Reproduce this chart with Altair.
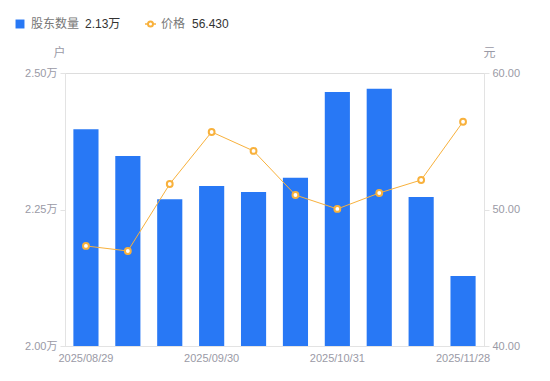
import altair as alt
import pandas as pd

dates = ["2025/08/29", "2025/09/10", "2025/09/19", "2025/09/30", "2025/10/10",
         "2025/10/20", "2025/10/31", "2025/11/10", "2025/11/20", "2025/11/28"]
holders = [2.397, 2.348, 2.269, 2.293, 2.282, 2.308, 2.465, 2.471, 2.273, 2.128]
prices = [47.33, 46.96, 51.87, 55.68, 54.29, 51.06, 50.04, 51.21, 52.16, 56.43]
x_tick_labels = ["2025/08/29", "2025/09/30", "2025/10/31", "2025/11/28"]

df = pd.DataFrame({"date": dates, "holders": holders, "price": prices})

BLUE = "#2878f5"
ORANGE = "#f8b13c"
GRAY = "#9a9aa6"
AXIS = "#e3e3e3"
FONT = "Liberation Sans, Noto Sans CJK SC, sans-serif"

xenc = alt.X("date:N", sort=dates,
             scale=alt.Scale(paddingInner=0.4, paddingOuter=0.2),
             axis=alt.Axis(values=x_tick_labels, title=None, labelAngle=0,
                           ticks=False, domainColor=AXIS, labelColor=GRAY,
                           labelFontSize=11, labelPadding=6, labelFont=FONT))

bars = alt.Chart(df).mark_bar(color=BLUE, clip=True).encode(
    x=xenc,
    y=alt.Y("holders:Q", scale=alt.Scale(domain=[2.0, 2.5], zero=False),
            axis=alt.Axis(values=[2.0, 2.25, 2.5], labelExpr="format(datum.value, '.2f') + '万'",
                          title="户", titleAngle=0, titleX=-6, titleY=-14,
                          titleAlign="center", titleColor=GRAY, titleFontWeight="normal",
                          titleFontSize=12, titleFont=FONT,
                          labelColor=GRAY, labelFontSize=11, labelFont=FONT,
                          tickColor=AXIS, tickSize=5, domainColor=AXIS, grid=False,
                          labelPadding=3)),
    y2=alt.datum(2.0),
)

line = alt.Chart(df).mark_line(color=ORANGE, strokeWidth=1).encode(
    x=alt.X("date:N", sort=dates),
    y=alt.Y("price:Q", scale=alt.Scale(domain=[40, 60], zero=False),
            axis=alt.Axis(orient="right", values=[40, 50, 60], format=".2f",
                          title="元", titleAngle=0, titleX=5, titleY=-14,
                          titleAlign="center", titleColor=GRAY, titleFontWeight="normal",
                          titleFontSize=12, titleFont=FONT,
                          labelColor=GRAY, labelFontSize=11, labelFont=FONT,
                          tickColor=AXIS, tickSize=5, domainColor=AXIS, grid=False,
                          labelPadding=3))
)

points = alt.Chart(df).mark_point(shape="circle", filled=True, fill="white",
                                  stroke=ORANGE, strokeWidth=2, size=34, opacity=1).encode(
    x=alt.X("date:N", sort=dates),
    y=alt.Y("price:Q", scale=alt.Scale(domain=[40, 60]), axis=None),
)

one = alt.Data(values=[{"a": 1}])
ly = -49
leg_sq = alt.Chart(one).mark_square(color=BLUE, size=80, opacity=1).encode(
    x=alt.value(-45), y=alt.value(ly))
leg_t1 = alt.Chart(one).mark_text(text="股东数量", align="left", baseline="middle",
                                  fontSize=12, color="#777777", font=FONT).encode(
    x=alt.value(-34), y=alt.value(ly))
leg_v1 = alt.Chart(one).mark_text(text="2.13万", align="left", baseline="middle",
                                  fontSize=12, color="#333333", font=FONT).encode(
    x=alt.value(20), y=alt.value(ly))
leg_ln = alt.Chart(one).mark_rule(color=ORANGE, strokeWidth=1.5).encode(
    x=alt.value(80), x2=alt.value(91), y=alt.value(ly))
leg_pt = alt.Chart(one).mark_point(shape="circle", filled=True, fill="white",
                                   stroke=ORANGE, strokeWidth=2, size=25, opacity=1).encode(
    x=alt.value(85.5), y=alt.value(ly))
leg_t2 = alt.Chart(one).mark_text(text="价格", align="left", baseline="middle",
                                  fontSize=12, color="#777777", font=FONT).encode(
    x=alt.value(96), y=alt.value(ly))
leg_v2 = alt.Chart(one).mark_text(text="56.430", align="left", baseline="middle",
                                  fontSize=12, color="#333333", font=FONT).encode(
    x=alt.value(127), y=alt.value(ly))

main = alt.layer(bars, line, points).resolve_scale(y="independent")

chart = alt.layer(main, leg_sq, leg_t1, leg_v1, leg_ln, leg_pt, leg_t2, leg_v2).properties(
    width=419, height=273,
    autosize=alt.AutoSizeParams(type="none"),
    padding={"left": 57, "top": 65, "right": 58, "bottom": 27},
).configure_view(stroke=None).configure(background="white")

chart.save("out.html", embed_options={"renderer": "svg", "actions": False})
